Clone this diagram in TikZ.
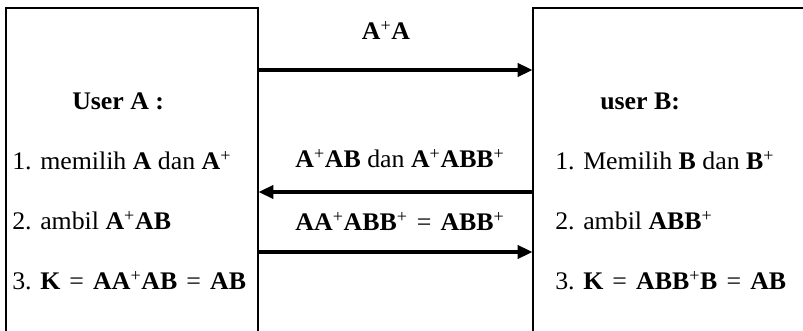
\documentclass[tikz,border=0pt]{standalone}
\usepackage{fontspec}
\setmainfont{Liberation Serif}[FakeStretch=1.02]
\usetikzlibrary{arrows.meta,fit}
\newcommand{\pls}{\textsuperscript{+}}
\newcommand{\eqs}{\hspace{2pt} = \hspace{2pt}}
\begin{document}
\begin{tikzpicture}[x=0.75pt,y=-0.75pt,
  box/.style={draw, line width=1pt, inner sep=0pt},
  msg/.style={line width=2.3pt, -{Triangle[length=11pt,width=10pt]}},
  txt/.style={font=\fontsize{19}{22}\selectfont, inner sep=0pt, anchor=base west},
  lbl/.style={font=\fontsize{19}{22}\selectfont, inner sep=0pt, anchor=base}]
\useasboundingbox (0,0) rectangle (803,331);

% the two parties, open towards the bottom edge
\coordinate (a1) at (6,8);   \coordinate (a2) at (258,345);
\coordinate (b1) at (533,8); \coordinate (b2) at (815,345);
\node[box, fit=(a1)(a2)] (boxA) {};
\node[box, fit=(b1)(b2)] (boxB) {};

% user A
\node[txt] (ta0) at (72,110) {\textbf{User A :}};
\node[txt] (ta1) at (12,170) {1. memilih \textbf{A} dan \textbf{A}\pls};
\node[txt] (ta2) at (12,230) {2. ambil \textbf{A}\pls\textbf{AB}};
\node[txt] (ta3) at (12,290) {3. \textbf{K}\eqs\textbf{AA}\pls\textbf{AB}\eqs\textbf{AB}};

% user B
\node[txt] (tb0) at (600,110) {\textbf{user B:}};
\node[txt] (tb1) at (555,170) {1. Memilih \textbf{B} dan \textbf{B}\pls};
\node[txt] (tb2) at (555,230) {2. ambil \textbf{ABB}\pls};
\node[txt] (tb3) at (555,290) {3. \textbf{K}\eqs\textbf{ABB}\pls\textbf{B}\eqs\textbf{AB}};

% messages
\node[lbl] (m1) at (386,40) {\textbf{A}\pls\textbf{A}};
\node[lbl] (m2) at (400,168) {\textbf{A}\pls\textbf{AB} dan \textbf{A}\pls\textbf{ABB}\pls};
\node[lbl] (m3) at (400,231) {\textbf{AA}\pls\textbf{ABB}\pls\eqs\textbf{ABB}\pls};

\coordinate (y1) at (0,70);
\coordinate (y2) at (0,192);
\coordinate (y3) at (0,252);
\draw[msg] (boxA.east |- y1) -- (boxB.west |- y1);
\draw[msg] (boxB.west |- y2) -- (boxA.east |- y2);
\draw[msg] (boxA.east |- y3) -- (boxB.west |- y3);
\end{tikzpicture}
\end{document}
